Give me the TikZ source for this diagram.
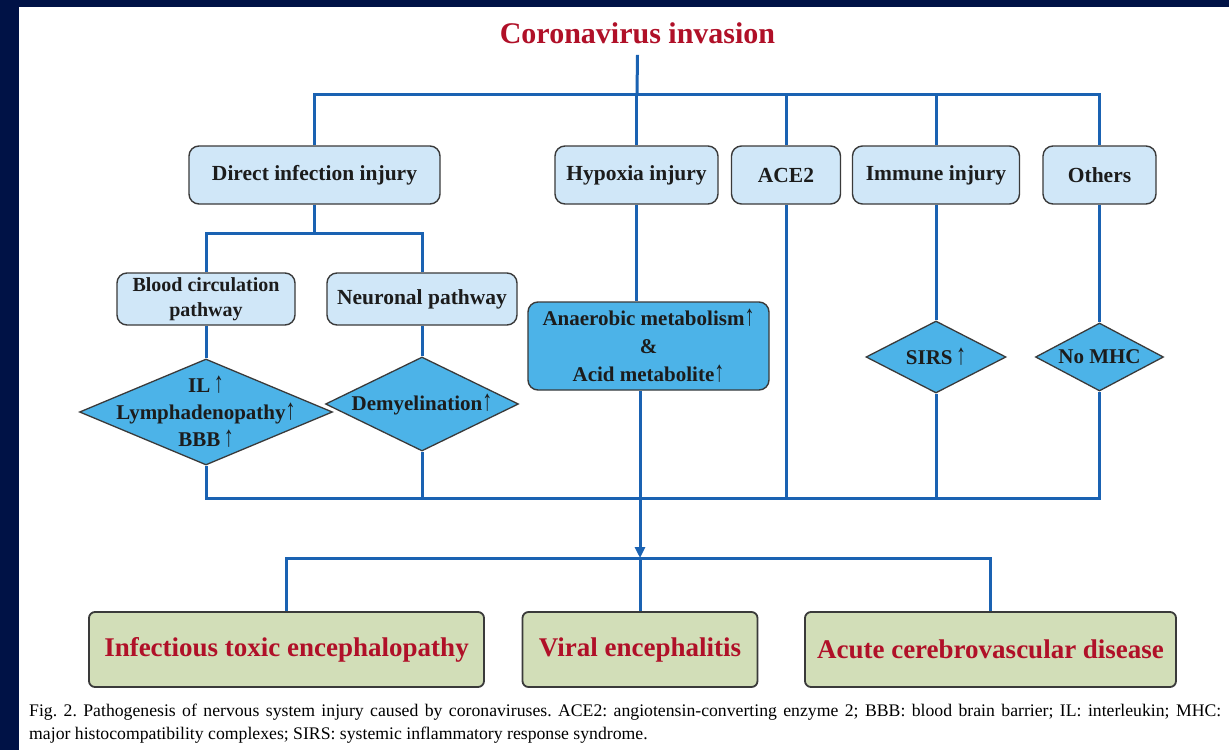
\documentclass[tikz,border=0pt]{standalone}
\usepackage{fontspec}
\setmainfont{Liberation Serif}
\usetikzlibrary{shapes.geometric,arrows.meta}
\definecolor{navy}{HTML}{001246}
\definecolor{connblue}{HTML}{1A62B2}
\definecolor{lightblue}{HTML}{D0E7F8}
\definecolor{diafill}{HTML}{4CB3E8}
\definecolor{bordergray}{HTML}{3A3A3A}
\definecolor{sage}{HTML}{D2DEB8}
\definecolor{darkred}{HTML}{B01028}
\definecolor{textdark}{HTML}{1C1C1C}
\newcommand\upar{\scalebox{0.95}[1.4]{↑}}
\pgfdeclarelayer{bg}
\pgfsetlayers{bg,main}
\begin{document}
\begin{tikzpicture}[x=1pt,y=-1pt,
  conn/.style={draw=connblue,line width=3pt},
  lbox/.style={draw=bordergray,line width=1.4pt,fill=lightblue,rounded corners=10pt,
    inner sep=0pt,align=center,text=textdark,
    font=\fontsize{21.5}{25}\selectfont\bfseries},
  dbox/.style={draw=bordergray,line width=1.4pt,fill=diafill,rounded corners=10pt,
    inner sep=0pt,align=center,text=textdark,
    font=\fontsize{21}{28}\selectfont\bfseries},
  diam/.style={diamond,draw=bordergray,line width=1.3pt,fill=diafill,inner sep=0pt},
  dtext/.style={align=center,text=textdark,inner sep=0pt,
    font=\fontsize{21}{27}\selectfont\bfseries},
  gbox/.style={draw=bordergray,line width=1.8pt,fill=sage,rounded corners=6pt,
    inner sep=0pt,align=center,text=darkred,minimum height=75pt,
    font=\fontsize{27}{30}\selectfont\bfseries}]
\useasboundingbox (0,0) rectangle (1229,750);
\begin{pgfonlayer}{bg}
  \fill[navy] (0,0) rectangle (1229,750);
  \fill[white] (19,7) rectangle (1229,750);
\end{pgfonlayer}

% title
\node[text=darkred,font=\fontsize{30}{34}\selectfont\bfseries,inner sep=0pt] (title) at (637.5,33) {Coronavirus invasion};

% row 1
\node[lbox,minimum width=251pt,minimum height=58pt] (direct) at (314.5,175) {Direct infection injury};
\node[lbox,minimum width=163pt,minimum height=58pt] (hypoxia) at (636.5,175) {Hypoxia injury};
\node[lbox,minimum width=109pt,minimum height=58pt] (ace2) at (786,175) {ACE2};
\node[lbox,minimum width=167pt,minimum height=58pt] (immune) at (936,175) {Immune injury};
\node[lbox,minimum width=113pt,minimum height=58pt] (others) at (1099.5,175) {Others};

% row 2
\node[lbox,minimum width=178pt,minimum height=52pt,font=\fontsize{20}{25}\selectfont\bfseries] (blood) at (206,299) {Blood circulation\\pathway};
\node[lbox,minimum width=190pt,minimum height=52pt] (neuronal) at (422,299) {Neuronal pathway};
\node[dbox,minimum width=241pt,minimum height=88pt] (anaerobic) at (648.5,346) {Anaerobic metabolism\upar\\\&\\Acid metabolite\upar};

% diamonds
\node[diam,minimum width=253pt,minimum height=106pt] (dia1) at (206,412) {};
\node[dtext] (dia1t) at (dia1.center) {IL\,\upar\\Lymphadenopathy\upar\\BBB\,\upar};
\node[diam,minimum width=193pt,minimum height=94pt] (dia2) at (422,404) {};
\node[dtext] (dia2t) at (dia2.center) {Demyelination\upar};
\node[diam,minimum width=140pt,minimum height=72pt] (sirs) at (936,357) {};
\node[dtext] (sirst) at (sirs.center) {SIRS\,\upar};
\node[diam,minimum width=128pt,minimum height=68pt] (nomhc) at (1099.5,357) {};
\node[dtext] (nomhct) at (nomhc.center) {No MHC};

% bottom row
\node[gbox,minimum width=395pt] (infectious) at (286.5,649.5) {Infectious toxic encephalopathy};
\node[gbox,minimum width=235pt] (viral) at (640,649.5) {Viral encephalitis};
\node[gbox,minimum width=371pt] (acute) at (990.5,649.5) {Acute cerebrovascular disease};

% caption
\node[anchor=north west,inner sep=0pt,text width=1192pt,align=justify,
  font=\fontsize{17.7}{22.5}\selectfont\frenchspacing,text=black] (caption) at (29,704)
  {Fig. 2. Pathogenesis of nervous system injury caused by coronaviruses. ACE2: angiotensin-converting enzyme 2; BBB: blood brain barrier; IL: interleukin; MHC:\linebreak major histocompatibility complexes; SIRS: systemic inflammatory response syndrome.};

% connectors
\coordinate (topbus) at (637,94);
\coordinate (split1) at (314.5,233);
\coordinate (botbus) at (640,498);
\coordinate (lowbus) at (640,558);
\begin{pgfonlayer}{bg}
  \draw[conn] (title.south) ++(0,11) -- (topbus);
  \draw[conn] (direct.north) |- (topbus) -| (others.north);
  \draw[conn] (topbus) -- (topbus -| hypoxia.north) -- (hypoxia.north);
  \draw[conn] (ace2.north |- topbus) -- (ace2.north);
  \draw[conn] (immune.north |- topbus) -- (immune.north);
  \draw[conn] (direct.south) -- (split1);
  \draw[conn] (blood.north) |- (split1) -| (neuronal.north);
  \draw[conn] (blood.south) -- (dia1.north);
  \draw[conn] (neuronal.south) -- (dia2.north);
  \draw[conn] (hypoxia.south) -- (hypoxia.south |- anaerobic.north);
  \draw[conn] (immune.south) -- (sirs.north);
  \draw[conn] (others.south) -- (nomhc.north);
  \draw[conn] (dia1.south) |- (botbus) -| (nomhc.south);
  \draw[conn] (dia2.south) -- (dia2.south |- botbus);
  \draw[conn] (ace2.south) -- (ace2.south |- botbus);
  \draw[conn] (sirs.south) -- (sirs.south |- botbus);
  \draw[conn,-{Triangle[length=11pt,width=10pt]}] (anaerobic.south -| lowbus) -- (lowbus);
  \draw[conn] (infectious.north) |- (lowbus) -| (acute.north);
  \draw[conn] (lowbus) -- (viral.north);
\end{pgfonlayer}
\end{tikzpicture}
\end{document}
